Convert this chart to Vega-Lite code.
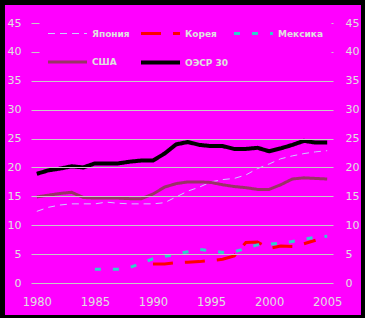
{
  "$schema": "https://vega.github.io/schema/vega-lite/v6.json",
  "width": 302,
  "height": 260,
  "autosize": {"type": "none"},
  "padding": {"left": 31, "top": 23, "right": 32, "bottom": 35},
  "background": "black",
  "config": {
    "view": {"stroke": null},
    "axis": {"zindex": 1, "domain": false, "ticks": false, "labelFont": "DejaVu Sans", "labelFontSize": 11, "labelColor": "#E0E0E0", "title": null},
    "legend": {"zindex": 2}
  },
  "layer": [
    {
      "data": {"values": [{}]},
      "mark": {"type": "rect", "fill": "#FF00FF", "clip": false},
      "encoding": {
        "x": {"datum": 1977.26, "type": "quantitative", "scale": {"domain": [1979.5, 2005.5], "nice": false, "zero": false}, "axis": {"zindex": 1, "values": [1980, 1985, 1990, 1995, 2000, 2005], "format": "d", "grid": false, "labelPadding": 13, "labelFontSize": 11.5}},
        "x2": {"datum": 2007.91},
        "y": {"datum": -5.54, "type": "quantitative", "scale": {"domain": [0, 45], "nice": false, "zero": false}, "axis": {"zindex": 1, "orient": "right", "grid": false, "values": [0, 5, 10, 15, 20, 25, 30, 35, 40, 45], "labelPadding": 12}},
        "y2": {"datum": 48.12}
      }
    },
    {
      "data": {"values": [
        {"country": "Япония", "year": 1980, "value": 12.4},
        {"country": "Япония", "year": 1981, "value": 13.1},
        {"country": "Япония", "year": 1982, "value": 13.5},
        {"country": "Япония", "year": 1983, "value": 13.7},
        {"country": "Япония", "year": 1984, "value": 13.7},
        {"country": "Япония", "year": 1985, "value": 13.7},
        {"country": "Япония", "year": 1986, "value": 14.0},
        {"country": "Япония", "year": 1987, "value": 13.8},
        {"country": "Япония", "year": 1988, "value": 13.7},
        {"country": "Япония", "year": 1989, "value": 13.7},
        {"country": "Япония", "year": 1990, "value": 13.7},
        {"country": "Япония", "year": 1991, "value": 13.9},
        {"country": "Япония", "year": 1992, "value": 14.9},
        {"country": "Япония", "year": 1993, "value": 15.9},
        {"country": "Япония", "year": 1994, "value": 16.6},
        {"country": "Япония", "year": 1995, "value": 17.5},
        {"country": "Япония", "year": 1996, "value": 17.9},
        {"country": "Япония", "year": 1997, "value": 18.1},
        {"country": "Япония", "year": 1998, "value": 18.7},
        {"country": "Япония", "year": 1999, "value": 19.8},
        {"country": "Япония", "year": 2000, "value": 20.6},
        {"country": "Япония", "year": 2001, "value": 21.5},
        {"country": "Япония", "year": 2002, "value": 22.0},
        {"country": "Япония", "year": 2003, "value": 22.4},
        {"country": "Япония", "year": 2004, "value": 22.7},
        {"country": "Япония", "year": 2005, "value": 22.9},
        {"country": "Корея", "year": 1990, "value": 3.3},
        {"country": "Корея", "year": 1991, "value": 3.3},
        {"country": "Корея", "year": 1992, "value": 3.5},
        {"country": "Корея", "year": 1993, "value": 3.6},
        {"country": "Корея", "year": 1994, "value": 3.7},
        {"country": "Корея", "year": 1995, "value": 3.9},
        {"country": "Корея", "year": 1996, "value": 4.1},
        {"country": "Корея", "year": 1997, "value": 4.7},
        {"country": "Корея", "year": 1998, "value": 7.0},
        {"country": "Корея", "year": 1999, "value": 7.1},
        {"country": "Корея", "year": 2000, "value": 6.0},
        {"country": "Корея", "year": 2001, "value": 6.4},
        {"country": "Корея", "year": 2002, "value": 6.3},
        {"country": "Корея", "year": 2003, "value": 6.8},
        {"country": "Корея", "year": 2004, "value": 7.4},
        {"country": "Мексика", "year": 1985, "value": 2.4},
        {"country": "Мексика", "year": 1986, "value": 2.4},
        {"country": "Мексика", "year": 1987, "value": 2.4},
        {"country": "Мексика", "year": 1988, "value": 2.7},
        {"country": "Мексика", "year": 1989, "value": 3.4},
        {"country": "Мексика", "year": 1990, "value": 4.2},
        {"country": "Мексика", "year": 1991, "value": 4.6},
        {"country": "Мексика", "year": 1992, "value": 5.0},
        {"country": "Мексика", "year": 1993, "value": 5.4},
        {"country": "Мексика", "year": 1994, "value": 5.8},
        {"country": "Мексика", "year": 1995, "value": 5.6},
        {"country": "Мексика", "year": 1996, "value": 5.3},
        {"country": "Мексика", "year": 1997, "value": 5.4},
        {"country": "Мексика", "year": 1998, "value": 6.0},
        {"country": "Мексика", "year": 1999, "value": 6.6},
        {"country": "Мексика", "year": 2000, "value": 6.7},
        {"country": "Мексика", "year": 2001, "value": 6.9},
        {"country": "Мексика", "year": 2002, "value": 7.2},
        {"country": "Мексика", "year": 2003, "value": 7.6},
        {"country": "Мексика", "year": 2004, "value": 7.9},
        {"country": "Мексика", "year": 2005, "value": 8.1},
        {"country": "США", "year": 1980, "value": 14.9},
        {"country": "США", "year": 1981, "value": 15.2},
        {"country": "США", "year": 1982, "value": 15.5},
        {"country": "США", "year": 1983, "value": 15.7},
        {"country": "США", "year": 1984, "value": 14.8},
        {"country": "США", "year": 1985, "value": 14.7},
        {"country": "США", "year": 1986, "value": 14.7},
        {"country": "США", "year": 1987, "value": 14.7},
        {"country": "США", "year": 1988, "value": 14.6},
        {"country": "США", "year": 1989, "value": 14.6},
        {"country": "США", "year": 1990, "value": 15.4},
        {"country": "США", "year": 1991, "value": 16.6},
        {"country": "США", "year": 1992, "value": 17.2},
        {"country": "США", "year": 1993, "value": 17.5},
        {"country": "США", "year": 1994, "value": 17.5},
        {"country": "США", "year": 1995, "value": 17.4},
        {"country": "США", "year": 1996, "value": 17.0},
        {"country": "США", "year": 1997, "value": 16.7},
        {"country": "США", "year": 1998, "value": 16.5},
        {"country": "США", "year": 1999, "value": 16.2},
        {"country": "США", "year": 2000, "value": 16.2},
        {"country": "США", "year": 2001, "value": 17.0},
        {"country": "США", "year": 2002, "value": 18.0},
        {"country": "США", "year": 2003, "value": 18.2},
        {"country": "США", "year": 2004, "value": 18.1},
        {"country": "США", "year": 2005, "value": 18.0},
        {"country": "ОЭСР 30", "year": 1980, "value": 18.9},
        {"country": "ОЭСР 30", "year": 1981, "value": 19.5},
        {"country": "ОЭСР 30", "year": 1982, "value": 19.8},
        {"country": "ОЭСР 30", "year": 1983, "value": 20.2},
        {"country": "ОЭСР 30", "year": 1984, "value": 20.0},
        {"country": "ОЭСР 30", "year": 1985, "value": 20.7},
        {"country": "ОЭСР 30", "year": 1986, "value": 20.7},
        {"country": "ОЭСР 30", "year": 1987, "value": 20.7},
        {"country": "ОЭСР 30", "year": 1988, "value": 21.0},
        {"country": "ОЭСР 30", "year": 1989, "value": 21.2},
        {"country": "ОЭСР 30", "year": 1990, "value": 21.2},
        {"country": "ОЭСР 30", "year": 1991, "value": 22.4},
        {"country": "ОЭСР 30", "year": 1992, "value": 24.0},
        {"country": "ОЭСР 30", "year": 1993, "value": 24.4},
        {"country": "ОЭСР 30", "year": 1994, "value": 23.9},
        {"country": "ОЭСР 30", "year": 1995, "value": 23.7},
        {"country": "ОЭСР 30", "year": 1996, "value": 23.7},
        {"country": "ОЭСР 30", "year": 1997, "value": 23.2},
        {"country": "ОЭСР 30", "year": 1998, "value": 23.2},
        {"country": "ОЭСР 30", "year": 1999, "value": 23.4},
        {"country": "ОЭСР 30", "year": 2000, "value": 22.8},
        {"country": "ОЭСР 30", "year": 2001, "value": 23.3},
        {"country": "ОЭСР 30", "year": 2002, "value": 23.9},
        {"country": "ОЭСР 30", "year": 2003, "value": 24.6},
        {"country": "ОЭСР 30", "year": 2004, "value": 24.3},
        {"country": "ОЭСР 30", "year": 2005, "value": 24.3}
      ]},
      "mark": {"type": "line"},
      "encoding": {
        "x": {"field": "year", "type": "quantitative", "scale": {"domain": [1979.5, 2005.5], "nice": false, "zero": false}, "axis": {"zindex": 1, "values": [1980, 1985, 1990, 1995, 2000, 2005], "format": "d", "grid": false, "labelPadding": 13, "labelFontSize": 11.5}},
        "y": {"field": "value", "type": "quantitative", "scale": {"domain": [0, 45], "nice": false, "zero": false}, "axis": {"zindex": 1, "orient": "left", "grid": true, "gridColor": "#C8C8C8", "gridWidth": 1, "gridDash": {"condition": {"test": "datum.value >= 40", "value": [8, 292]}, "value": []}, "values": [0, 5, 10, 15, 20, 25, 30, 35, 40, 45], "labelPadding": 10}},
        "color": {
          "field": "country", "type": "nominal",
          "scale": {"domain": ["Япония", "Корея", "Мексика", "США", "ОЭСР 30"], "range": ["#CCCCFF", "#FF0000", "#33CCCC", "#993366", "#000000"]},
          "legend": {"title": null, "orient": "none", "legendX": 8, "legendY": -19, "columns": 3, "direction": "horizontal", "symbolType": "stroke", "symbolSize": 1521, "symbolOffset": 0, "padding": 7, "labelOffset": 3, "columnPadding": -4, "rowPadding": -29, "gridAlign": "all", "labelFont": "DejaVu Sans", "labelFontWeight": "bold", "labelFontSize": 9, "labelColor": "#E0E0E0"}
        },
        "strokeDash": {"field": "country", "type": "nominal", "scale": {"domain": ["Япония", "Корея", "Мексика", "США", "ОЭСР 30"], "range": [[7, 5], [20, 12], [6, 12], [1, 0], [1, 0]]}},
        "strokeWidth": {"field": "country", "type": "nominal", "scale": {"type": "ordinal", "domain": ["Япония", "Корея", "Мексика", "США", "ОЭСР 30"], "range": [1, 3, 3, 3, 4]}}
      }
    }
  ],
  "resolve": {"axis": {"y": "independent"}}
}
